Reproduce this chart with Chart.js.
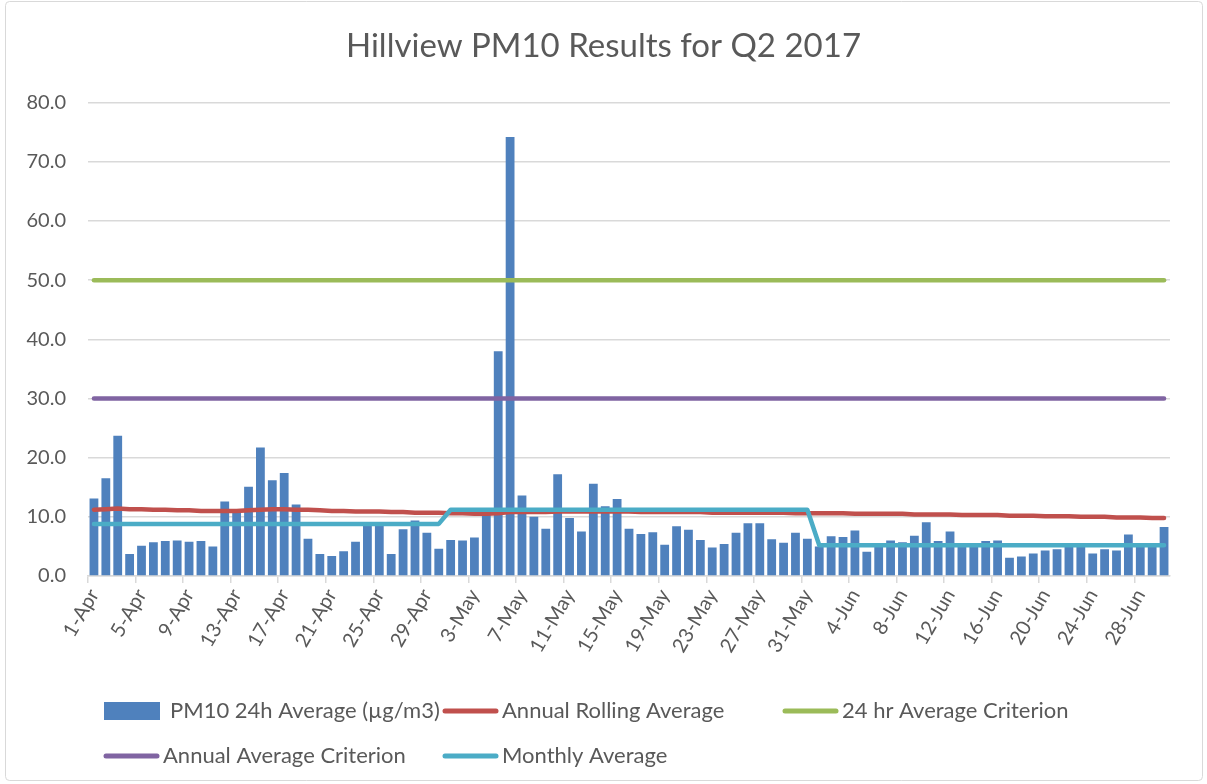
<!DOCTYPE html>
<html>
<head>
<meta charset="utf-8">
<title>Hillview PM10 Results for Q2 2017</title>
<script src="https://cdn.jsdelivr.net/npm/chart.js@4.4.0/dist/chart.umd.min.js"></script>
<style>
    html, body { margin: 0; padding: 0; background: #ffffff; }
    #wrap { width: 1207px; height: 784px; }
</style>
</head>
<body>
<div id="wrap"><canvas id="pmChart" width="1207" height="784"></canvas></div>
<script>
// Měsíce čtvrtletí a počet dní v každém z nich.
const months = ['Apr', 'May', 'Jun'];
const monthDays = [30, 31, 30];

// Denní průměry PM10 (µg/m3), 1. dubna až 30. června.
const pm10Daily = [
    13.1, 16.5, 23.7, 3.7, 5.1, 5.7, 5.9, 6.0, 5.8, 5.9,
    5.0, 12.6, 10.9, 15.1, 21.7, 16.2, 17.4, 12.1, 6.3, 3.7,
    3.4, 4.2, 5.8, 8.9, 8.7, 3.7, 7.9, 9.4, 7.3, 4.6,
    6.1, 6.0, 6.5, 10.6, 38.0, 74.2, 13.6, 10.0, 8.0, 17.2,
    9.8, 7.5, 15.6, 11.8, 13.0, 8.0, 7.1, 7.4, 5.3, 8.4,
    7.8, 6.1, 4.8, 5.4, 7.3, 8.9, 8.9, 6.2, 5.6, 7.3,
    6.3,
    5.0, 6.7, 6.6, 7.7, 4.1, 5.3, 6.0, 5.7, 6.8, 9.1,
    5.9, 7.5, 5.2, 5.4, 5.9, 6.0, 3.1, 3.3, 3.8, 4.3,
    4.5, 5.1, 5.3, 3.8, 4.5, 4.3, 7.0, 5.0, 5.2, 8.3
];

// Roční klouzavý průměr pro stejné dny.
const annualRolling = [
    11.2, 11.3, 11.4, 11.3, 11.3, 11.2, 11.2, 11.1, 11.1, 11.0,
    11.0, 11.0, 11.0, 11.1, 11.2, 11.3, 11.3, 11.2, 11.2, 11.1,
    11.0, 11.0, 10.9, 10.9, 10.9, 10.8, 10.8, 10.7, 10.7, 10.7,
    10.6, 10.6, 10.5, 10.5, 10.6, 10.8, 10.8, 10.8, 10.8, 10.9,
    10.9, 10.9, 10.9, 10.9, 10.9, 10.9, 10.8, 10.8, 10.8, 10.8,
    10.8, 10.8, 10.7, 10.7, 10.7, 10.7, 10.7, 10.7, 10.7, 10.6,
    10.6,
    10.6, 10.6, 10.6, 10.5, 10.5, 10.5, 10.5, 10.5, 10.4, 10.4,
    10.4, 10.4, 10.3, 10.3, 10.3, 10.3, 10.2, 10.2, 10.2, 10.1,
    10.1, 10.1, 10.0, 10.0, 10.0, 9.9, 9.9, 9.9, 9.8, 9.8
];

// Měsíční průměry a limity.
const monthlyAverage = [8.8, 11.2, 5.2];
const criterion24h = 50;
const criterionAnnual = 30;

// Popisky osy y.
const yTickMin = 0;
const yTickMax = 80;
const yTickStep = 10;

const textColor = '#595959';
const fontFamily = 'Lato, "Open Sans", sans-serif';

// Sestaví popisky dní a řadu měsíčního průměru.
let labels = [];
let monthlySeries = [];
months.forEach(function(month, i) {
    for (let d = 1; d <= monthDays[i]; d++) {
        labels.push(d + '-' + month);
        monthlySeries.push(monthlyAverage[i]);
    }
});

// Vlastní legenda ve dvou řádcích, aby sloupce seděly jako v Excelu.
const legendSlots = [
    { x: 104, y: 711 }, { x: 443, y: 711 }, { x: 783, y: 711 },
    { x: 104, y: 756 }, { x: 443, y: 756 }
];

const frameAndLegend = {
    id: 'frameAndLegend',
    beforeDraw(chart) {
        const ctx = chart.ctx;
        ctx.save();
        ctx.fillStyle = '#ffffff';
        ctx.fillRect(0, 0, chart.width, chart.height);
        ctx.strokeStyle = '#d9d9d9';
        ctx.lineWidth = 1;
        ctx.beginPath();
        ctx.roundRect(5.5, 1.5, 1197, 779, 4);
        ctx.stroke();
        ctx.restore();
    },
    afterDraw(chart) {
        const ctx = chart.ctx;
        ctx.save();
        ctx.font = '22px ' + fontFamily;
        ctx.fillStyle = textColor;
        ctx.textBaseline = 'middle';
        chart.data.datasets.forEach(function(ds, i) {
            const slot = legendSlots[i];
            let textX;
            if (ds.type === 'bar') {
                ctx.fillStyle = ds.backgroundColor;
                ctx.fillRect(slot.x, slot.y - 9, 56, 18);
                textX = slot.x + 66;
            } else {
                ctx.strokeStyle = ds.borderColor;
                ctx.lineWidth = 5;
                ctx.lineCap = 'round';
                ctx.beginPath();
                ctx.moveTo(slot.x + 2, slot.y);
                ctx.lineTo(slot.x + 53, slot.y);
                ctx.stroke();
                textX = slot.x + 59;
            }
            ctx.fillStyle = textColor;
            ctx.fillText(ds.label, textX, slot.y);
        });
        ctx.restore();
    }
};

let pmCtx = document.getElementById('pmChart').getContext('2d');
// noinspection JSUnresolvedReference
let pmChart = new Chart(pmCtx, {
    data: {
        labels: labels,
        datasets: [{
            type: 'bar',
            label: 'PM10 24h Average (µg/m3)',
            data: pm10Daily,
            backgroundColor: '#4f81bd',
            borderWidth: 0,
            barPercentage: 0.74,
            categoryPercentage: 1.0,
            order: 5
        }, {
            type: 'line',
            label: 'Annual Rolling Average',
            data: annualRolling,
            borderColor: '#c0504d',
            borderWidth: 4.5,
            pointRadius: 0,
            borderCapStyle: 'round',
            order: 4
        }, {
            type: 'line',
            label: '24 hr Average Criterion',
            data: labels.map(() => criterion24h),
            borderColor: '#9bbb59',
            borderWidth: 4.5,
            pointRadius: 0,
            borderCapStyle: 'round',
            order: 3
        }, {
            type: 'line',
            label: 'Annual Average Criterion',
            data: labels.map(() => criterionAnnual),
            borderColor: '#8064a2',
            borderWidth: 4.5,
            pointRadius: 0,
            borderCapStyle: 'round',
            order: 2
        }, {
            type: 'line',
            label: 'Monthly Average',
            data: monthlySeries,
            borderColor: '#4bacc6',
            borderWidth: 4.5,
            pointRadius: 0,
            borderCapStyle: 'round',
            borderJoinStyle: 'round',
            order: 1
        }]
    },
    options: {
        responsive: false,
        animation: false,
        layout: {
            padding: { left: 0, right: 0, top: 0, bottom: 0 }
        },
        plugins: {
            legend: { display: false },
            tooltip: { enabled: false },
            title: {
                display: true,
                text: 'Hillview PM10 Results for Q2 2017',
                color: textColor,
                font: { family: fontFamily, size: 33, weight: 'normal' },
                padding: { top: 27, bottom: 36 }
            }
        },
        scales: {
            x: {
                offset: true,
                grid: {
                    offset: true,
                    drawOnChartArea: false,
                    tickLength: 7,
                    lineWidth: 1.5,
                    color: function(c) {
                        return c.index % 4 === 0 ? '#d9d9d9' : 'rgba(0,0,0,0)';
                    }
                },
                border: { color: '#d9d9d9', width: 1.5 },
                ticks: {
                    autoSkip: false,
                    minRotation: 60,
                    maxRotation: 60,
                    padding: 2,
                    color: textColor,
                    font: { family: fontFamily, size: 20 },
                    callback: function(value, index) {
                        return index % 4 === 0 ? labels[index] : '';
                    }
                },
                afterFit: function(scale) {
                    scale.height = 208;
                }
            },
            y: {
                min: yTickMin,
                max: yTickMax,
                grid: {
                    color: '#d9d9d9',
                    lineWidth: 1.5,
                    drawTicks: false
                },
                border: { display: false },
                ticks: {
                    stepSize: yTickStep,
                    padding: 22,
                    color: textColor,
                    font: { family: fontFamily, size: 20 },
                    callback: function(value) {
                        return value.toFixed(1);
                    }
                },
                afterFit: function(scale) {
                    scale.width = 88;
                }
            },
            // Prázdná pravá osa jen kvůli okraji vpravo.
            yRight: {
                position: 'right',
                min: yTickMin,
                max: yTickMax,
                grid: { display: false },
                border: { display: false },
                ticks: { display: false },
                afterFit: function(scale) {
                    scale.width = 37;
                }
            }
        }
    },
    plugins: [frameAndLegend]
});
</script>
</body>
</html>
